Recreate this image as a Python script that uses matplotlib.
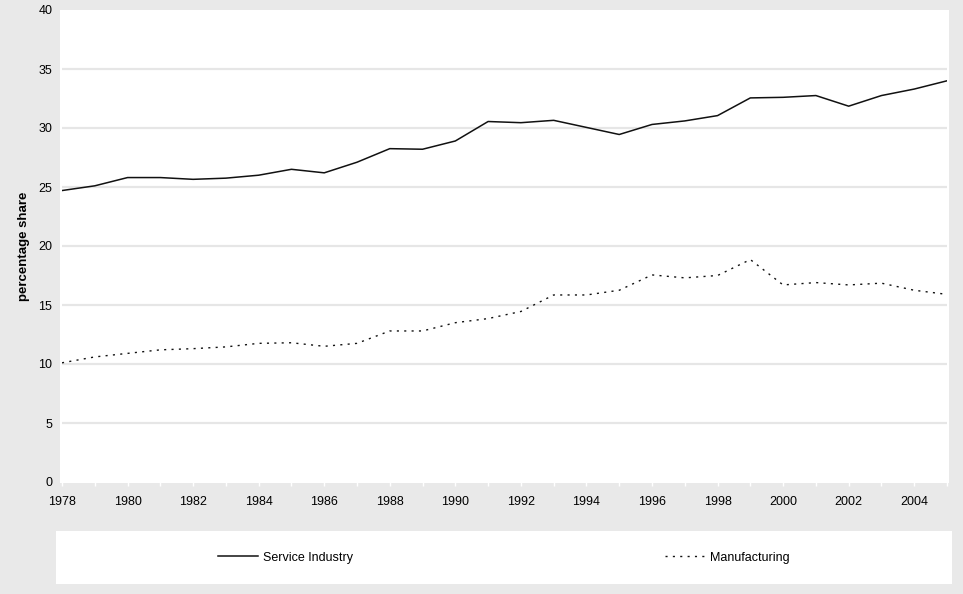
import numpy as np
import matplotlib
matplotlib.use("Agg")
import matplotlib.pyplot as plt
from matplotlib.patches import Rectangle
from matplotlib.lines import Line2D

# Share of total employment, percent
years = list(range(1978, 2006))
service = [24.7, 25.1, 25.8, 25.8, 25.65, 25.75, 26.0, 26.5, 26.2, 27.1,
           28.25, 28.2, 28.9, 30.55, 30.45, 30.65, 30.05, 29.45, 30.3, 30.6,
           31.05, 32.55, 32.6, 32.75, 31.85, 32.75, 33.3, 34.0]
manufacturing = [10.1, 10.6, 10.9, 11.2, 11.3, 11.45, 11.75, 11.8, 11.5, 11.75,
                 12.8, 12.8, 13.5, 13.85, 14.45, 15.85, 15.85, 16.25, 17.55, 17.3,
                 17.5, 18.85, 16.7, 16.9, 16.7, 16.85, 16.25, 15.9]

series_names = ["Service Industry", "Manufacturing"]
y_ticks = [0, 5, 10, 15, 20, 25, 30, 35, 40]
x_ticks = list(range(1978, 2005, 2))

BG = "#e9e9e9"
GRID = "#e6e6e6"
W, H = 963, 594

plt.rcParams["font.family"] = ["Liberation Sans", "DejaVu Sans"]

fig = plt.figure(figsize=(W / 100, H / 100), dpi=100)
fig.patch.set_facecolor(BG)

# white panel behind the plot area
fig.patches.append(Rectangle((60 / W, (H - 483) / H), 889 / W, 473 / H,
                             transform=fig.transFigure, facecolor="white",
                             edgecolor="none", zorder=0))

ax = fig.add_axes([62 / W, (H - 482) / H, 885 / W, 472 / H])
ax.set_facecolor("white")
ax.set_zorder(1)

solid, = ax.plot(years, service, color="#111111", lw=1.1, zorder=3)
dotted, = ax.plot(years, manufacturing, color="#111111", lw=1.0,
                  linestyle=(0, (1.5, 3.8)), zorder=3)

ax.set_xlim(1978, 2005)
ax.set_ylim(0, 40)
ax.set_yticks(y_ticks)
for v in y_ticks[1:-1]:
    ax.axhline(v, color=GRID, lw=1.6, zorder=1)

ax.set_xticks(x_ticks)
ax.set_xticks(years, minor=True)
ax.tick_params(axis="x", which="both", direction="out", length=3, width=1,
               color="white", labelsize=9, pad=7)
ax.tick_params(axis="y", length=0, labelsize=9, pad=7)
for s in ax.spines.values():
    s.set_visible(False)

ax.set_ylabel("percentage share", fontsize=9.5, fontweight="bold", labelpad=6)

# legend strip at the bottom
lax = fig.add_axes([56 / W, 10 / H, 896 / W, 53 / H])
lax.set_facecolor("white")
lax.set_xticks([])
lax.set_yticks([])
for s in lax.spines.values():
    s.set_visible(False)
handles = [Line2D([], [], color="#111111", lw=1.1),
           Line2D([], [], color="#111111", lw=1.0, linestyle=(0, (1.5, 3.8)))]
lax.legend(handles, series_names, loc="center", ncol=2, frameon=False,
           fontsize=9, handlelength=3.2, handletextpad=0.4, columnspacing=25)

fig.savefig("out.png", dpi=100, facecolor=BG)
